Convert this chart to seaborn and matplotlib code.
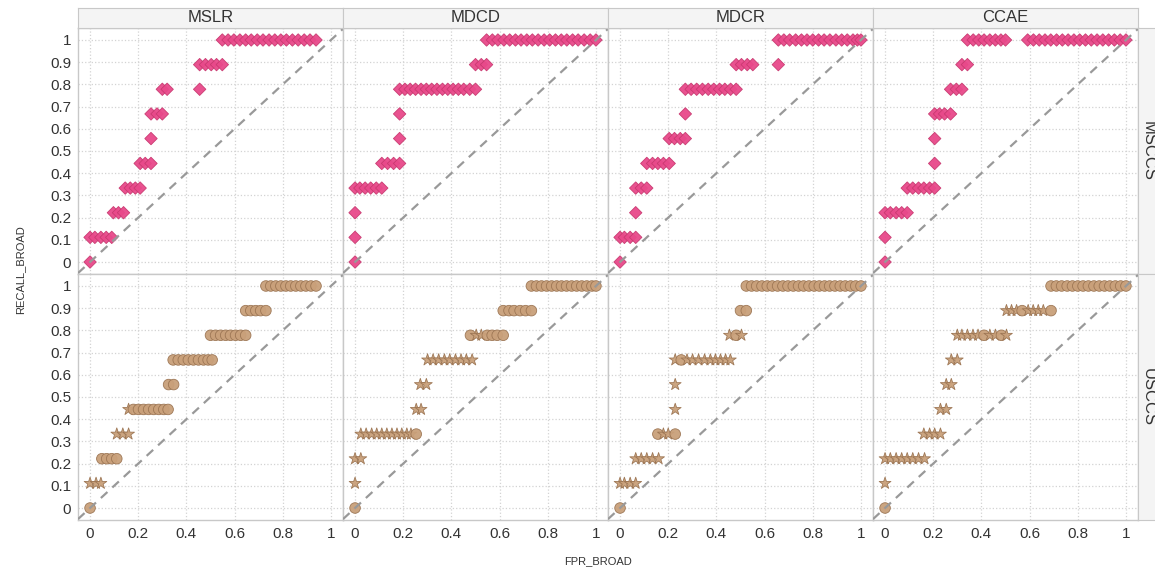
import pandas as pd
import matplotlib.pyplot as plt
import seaborn as sns

DATABASES = ['MSLR', 'MDCD', 'MDCR', 'CCAE']
COHORTS = ['MSCCS', 'USCCS']
Y_TICKS = [0, 0.1, 0.2, 0.3, 0.4, 0.5, 0.6, 0.7, 0.8, 0.9, 1.0]
Y_LABELS = ['0', '0.1', '0.2', '0.3', '0.4', '0.5', '0.6', '0.7', '0.8', '0.9', '1']
X_TICKS = [0, 0.2, 0.4, 0.6, 0.8, 1.0]
X_LABELS = ['0', '0.2', '0.4', '0.6', '0.8', '1']

# MSCCS rows: (recall, list of fpr values)  -- all diamonds
MS_MSLR = [
    (0.0, [0.0]),
    (0.111, [0.0, 0.02, 0.045, 0.067, 0.09]),
    (0.222, [0.097, 0.118, 0.139]),
    (0.333, [0.146, 0.167, 0.188, 0.208]),
    (0.444, [0.208, 0.229, 0.253]),
    (0.556, [0.253]),
    (0.667, [0.253, 0.278, 0.30]),
    (0.778, [0.30, 0.32, 0.455]),
    (0.889, [0.455, 0.479, 0.503, 0.525, 0.549]),
    (1.0, [0.549, 0.573, 0.597, 0.622, 0.646, 0.669, 0.694, 0.718, 0.743,
           0.767, 0.792, 0.815, 0.84, 0.864, 0.889, 0.913, 0.938]),
]
MS_MDCD = [
    (0.0, [0.0]),
    (0.111, [0.0]),
    (0.222, [0.0]),
    (0.333, [0.0, 0.02, 0.042, 0.065, 0.088, 0.111]),
    (0.444, [0.111, 0.135, 0.16, 0.185]),
    (0.556, [0.185]),
    (0.667, [0.185]),
    (0.778, [0.185, 0.207, 0.229, 0.251, 0.274, 0.296, 0.318, 0.34, 0.363,
             0.385, 0.407, 0.429, 0.451, 0.476, 0.5]),
    (0.889, [0.5, 0.524, 0.546]),
    (1.0, [0.546, 0.57, 0.593, 0.618, 0.642, 0.666, 0.689, 0.713, 0.736, 0.76,
           0.785, 0.808, 0.832, 0.856, 0.879, 0.903, 0.926, 0.951, 0.976, 1.0]),
]
MS_MDCR = [
    (0.0, [0.0]),
    (0.111, [0.0, 0.018, 0.042, 0.065]),
    (0.222, [0.065]),
    (0.333, [0.065, 0.088, 0.111]),
    (0.444, [0.111, 0.135, 0.157, 0.18, 0.204]),
    (0.556, [0.204, 0.226, 0.25, 0.271]),
    (0.667, [0.271]),
    (0.778, [0.271, 0.295, 0.318, 0.342, 0.366, 0.389, 0.413, 0.435, 0.459, 0.482]),
    (0.889, [0.482, 0.504, 0.528, 0.551, 0.657]),
    (1.0, [0.657, 0.68, 0.704, 0.729, 0.753, 0.776, 0.8, 0.824, 0.847, 0.871,
           0.896, 0.92, 0.943, 0.967, 0.985, 1.0]),
]
MS_CCAE = [
    (0.0, [0.0]),
    (0.111, [0.0]),
    (0.222, [0.0, 0.022, 0.046, 0.069, 0.092]),
    (0.333, [0.092, 0.115, 0.139, 0.161, 0.185, 0.206]),
    (0.444, [0.206]),
    (0.556, [0.206]),
    (0.667, [0.206, 0.226, 0.247, 0.272]),
    (0.778, [0.272, 0.296, 0.319]),
    (0.889, [0.319, 0.342]),
    (1.0, [0.342, 0.366, 0.389, 0.411, 0.435, 0.458, 0.481, 0.5,
           0.592, 0.616, 0.64, 0.664, 0.688, 0.712, 0.736, 0.76, 0.784, 0.808,
           0.832, 0.856, 0.88, 0.904, 0.928, 0.952, 0.976, 1.0]),
]

# USCCS rows: (recall, list of fpr values, marker per point: o = circle, * = star)
US_MSLR = [
    (0.0, [0.0], 'o'),
    (0.111, [0.0, 0.025, 0.045], '***'),
    (0.222, [0.049, 0.069, 0.09, 0.111], 'oooo'),
    (0.333, [0.111, 0.136, 0.16], '***'),
    (0.444, [0.16, 0.18, 0.201, 0.222, 0.243, 0.264, 0.285, 0.306, 0.324], '*oooooooo'),
    (0.556, [0.326, 0.347], 'oo'),
    (0.667, [0.345, 0.366, 0.387, 0.408, 0.429, 0.45, 0.471, 0.49, 0.507], 'ooooooooo'),
    (0.778, [0.5, 0.521, 0.542, 0.563, 0.583, 0.604, 0.625, 0.646], 'oooooooo'),
    (0.889, [0.646, 0.667, 0.688, 0.708, 0.73], 'ooooo'),
    (1.0, [0.73, 0.75, 0.771, 0.792, 0.813, 0.833, 0.854, 0.875, 0.896, 0.917, 0.938],
     'ooooooooooo'),
]
US_MDCD = [
    (0.0, [0.0], 'o'),
    (0.111, [0.0], '*'),
    (0.222, [0.0, 0.024], '**'),
    (0.333, [0.024, 0.046, 0.069, 0.09, 0.111, 0.132, 0.153, 0.174, 0.194, 0.215,
             0.232, 0.254], '***********o'),
    (0.444, [0.254, 0.274], '**'),
    (0.556, [0.271, 0.296], '**'),
    (0.667, [0.301, 0.324, 0.347, 0.371, 0.393, 0.417, 0.44, 0.462, 0.486], '*********'),
    (0.778, [0.479, 0.503, 0.524, 0.549, 0.569, 0.59, 0.615], 'o**oooo'),
    (0.889, [0.615, 0.639, 0.66, 0.685, 0.708, 0.732], 'oooooo'),
    (1.0, [0.732, 0.753, 0.774, 0.795, 0.816, 0.837, 0.857, 0.878, 0.899, 0.92,
           0.941, 0.962, 0.983, 1.0], 'oooooooooooooo'),
]
US_MDCR = [
    (0.0, [0.0], 'o'),
    (0.111, [0.0, 0.018, 0.042, 0.065], '****'),
    (0.222, [0.065, 0.088, 0.111, 0.135, 0.16], '*****'),
    (0.333, [0.157, 0.18, 0.2, 0.229], 'o**o'),
    (0.444, [0.229], '*'),
    (0.556, [0.229], '*'),
    (0.667, [0.229, 0.254, 0.278, 0.301, 0.326, 0.351, 0.375, 0.396, 0.417, 0.438,
             0.458], '*o*********'),
    (0.778, [0.454, 0.482, 0.504], '*o*'),
    (0.889, [0.5, 0.524], 'oo'),
    (1.0, [0.524, 0.546, 0.567, 0.589, 0.611, 0.632, 0.654, 0.676, 0.697, 0.719,
           0.741, 0.762, 0.784, 0.806, 0.827, 0.849, 0.87, 0.892, 0.914, 0.935,
           0.957, 0.978, 1.0], 'ooooooooooooooooooooooo'),
]
US_CCAE = [
    (0.0, [0.0], 'o'),
    (0.111, [0.0], '*'),
    (0.222, [0.0, 0.022, 0.046, 0.069, 0.092, 0.115, 0.139, 0.164], '********'),
    (0.333, [0.161, 0.185, 0.206, 0.23], '****'),
    (0.444, [0.23, 0.254], '**'),
    (0.556, [0.254, 0.275], '**'),
    (0.667, [0.275, 0.3], '**'),
    (0.778, [0.3, 0.319, 0.342, 0.365, 0.386, 0.411, 0.435, 0.458, 0.483, 0.504],
     '*****o**o*'),
    (0.889, [0.504, 0.525, 0.546, 0.569, 0.594, 0.615, 0.636, 0.657, 0.689], '***o****o'),
    (1.0, [0.689, 0.711, 0.733, 0.756, 0.778, 0.8, 0.822, 0.844, 0.867, 0.889,
           0.911, 0.933, 0.956, 0.978, 1.0], 'ooooooooooooooo'),
]

MS_DATA = {'MSLR': MS_MSLR, 'MDCD': MS_MDCD, 'MDCR': MS_MDCR, 'CCAE': MS_CCAE}
US_DATA = {'MSLR': US_MSLR, 'MDCD': US_MDCD, 'MDCR': US_MDCR, 'CCAE': US_CCAE}

rows = []
for db in DATABASES:
    for recall, fprs in MS_DATA[db]:
        for f in fprs:
            rows.append((db, 'MSCCS', f, recall, 'D'))
    for recall, fprs, marks in US_DATA[db]:
        for f, m in zip(fprs, marks):
            rows.append((db, 'USCCS', f, recall, m))
df = pd.DataFrame(rows, columns=['db', 'cohort', 'FPR_BROAD', 'RECALL_BROAD', 'mark'])

sns.set_style('white')
plt.rcParams['font.family'] = ['Liberation Sans', 'DejaVu Sans']

W, H = 1155, 568
fig = plt.figure(figsize=(W / 100, H / 100), dpi=100)


def frac(x0, y0, x1, y1):
    return [x0 / W, 1 - y1 / H, (x1 - x0) / W, (y1 - y0) / H]


LEFT, COLW = 78, 265
ROW_Y = [(28, 274), (274, 520)]
GRID = '#d3d3d3'
BORDER = '#c8c8c8'
TXT = '#333333'

colors = {'MSCCS': ('#e8498a', '#c8386f'), 'USCCS': ('#c9a07a', '#9b7452')}
markers = {'D': 'D', 'o': 'o', '*': '*'}
sizes = {'D': 40, 'o': 58, '*': 80}

for r, cohort in enumerate(COHORTS):
    for c, db in enumerate(DATABASES):
        y0, y1 = ROW_Y[r]
        ax = fig.add_axes(frac(LEFT + c * COLW, y0, LEFT + (c + 1) * COLW, y1))
        sub = df[(df.db == db) & (df.cohort == cohort)]
        fc, ec = colors[cohort]
        sns.scatterplot(data=sub, x='FPR_BROAD', y='RECALL_BROAD', style='mark',
                        markers=markers, size='mark', sizes=sizes, color=fc,
                        edgecolor=ec, linewidth=0.6, alpha=0.95, legend=False,
                        ax=ax, zorder=3)
        ax.axline((0, 0), slope=1, color='#999999', ls=(0, (4, 3)), lw=1.6, zorder=4)
        ax.set_xlim(-0.05, 1.05)
        ax.set_ylim(-0.054, 1.054)
        ax.set_xticks(X_TICKS)
        ax.set_yticks(Y_TICKS)
        ax.grid(True, ls=':', color=GRID, lw=0.9)
        ax.set_xlabel('')
        ax.set_ylabel('')
        ax.tick_params(length=0, labelsize=11, labelcolor=TXT, pad=5)
        if c == 0:
            ax.set_yticklabels(Y_LABELS)
        else:
            ax.set_yticklabels([])
        if r == 1:
            ax.set_xticklabels(X_LABELS)
        else:
            ax.set_xticklabels([])
        for s in ax.spines.values():
            s.set_color(BORDER)
            s.set_linewidth(1.0)

# column strips on top
for c, db in enumerate(DATABASES):
    sx = fig.add_axes(frac(LEFT + c * COLW, 8, LEFT + (c + 1) * COLW, 28))
    sx.set_facecolor('#f4f4f4')
    sx.set_xticks([])
    sx.set_yticks([])
    for s in sx.spines.values():
        s.set_color(BORDER)
    sx.text(0.5, 0.5, db, ha='center', va='center', fontsize=12, color=TXT,
            transform=sx.transAxes)

# row strips on the right
for r, cohort in enumerate(COHORTS):
    y0, y1 = ROW_Y[r]
    sx = fig.add_axes(frac(1138, y0, 1160, y1))
    sx.set_facecolor('#f4f4f4')
    sx.set_xticks([])
    sx.set_yticks([])
    for s in sx.spines.values():
        s.set_color(BORDER)
    sx.text(0.45, 0.5, cohort, ha='center', va='center', rotation=-90, fontsize=12,
            color=TXT, transform=sx.transAxes)

fig.text(20 / W, 1 - 270 / H, 'RECALL_BROAD', rotation=90, ha='center', va='center',
         fontsize=8, color=TXT)
fig.text(598 / W, 1 - 561 / H, 'FPR_BROAD', ha='center', va='center',
         fontsize=8, color=TXT)

fig.savefig('out.png', dpi=100)
